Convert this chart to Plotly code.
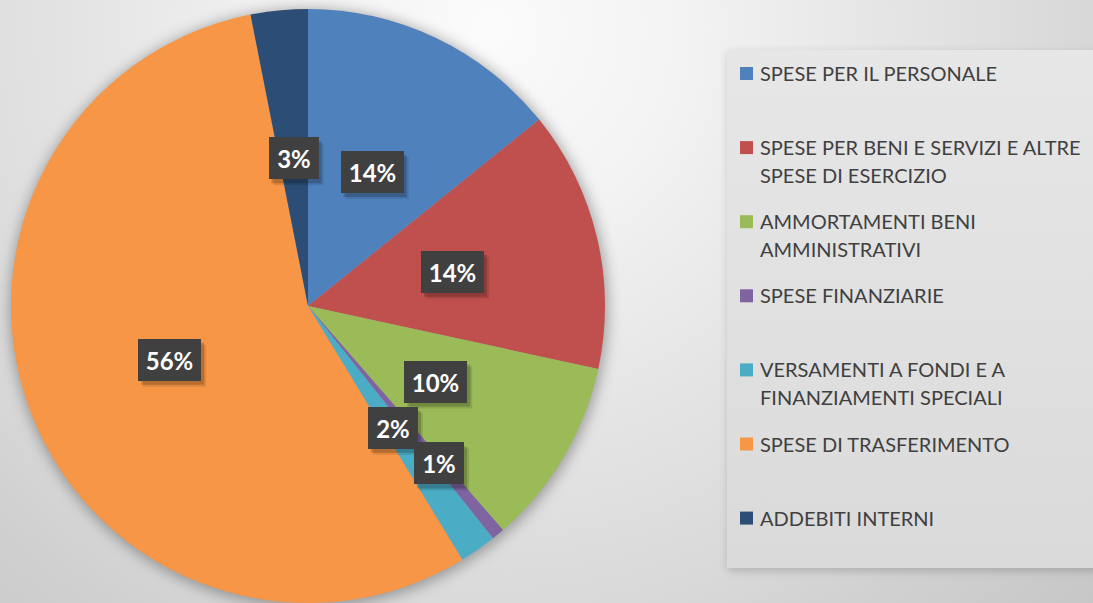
import base64
import math
import plotly.graph_objects as go

# ---------------- data ----------------
categories = [
    "SPESE PER IL PERSONALE",
    "SPESE PER BENI E SERVIZI E ALTRE<br>SPESE DI ESERCIZIO",
    "AMMORTAMENTI BENI<br>AMMINISTRATIVI",
    "SPESE FINANZIARIE",
    "VERSAMENTI A FONDI E A<br>FINANZIAMENTI SPECIALI",
    "SPESE DI TRASFERIMENTO",
    "ADDEBITI INTERNI",
]
shares = [14.2, 14.2, 10.2, 0.7, 2.0, 55.6, 3.1]
colors = ["#4f81bd", "#c0504d", "#9bbb59", "#8064a2", "#4bacc6", "#f79646", "#2c4d75"]

# ---------------- layout constants ----------------
W, H = 1093, 603
CX, CY, R = 308, 306, 297          # pie centre (px from left / top) and radius
LEG_X0, LEG_Y0, LEG_Y1 = 727, 50, 568
LEG_FIRST, LEG_STEP, LEG_LINE = 73, 74.1, 28
FONT = "Lato"


def px(x):
    return x / W


def py(y):
    return 1 - y / H


fig = go.Figure(
    go.Pie(
        labels=[c.replace("<br>", " ") for c in categories],
        values=shares,
        marker=dict(colors=colors, line=dict(width=0)),
        sort=False,
        direction="clockwise",
        rotation=0,
        textinfo="none",
        hoverinfo="label+percent",
        domain=dict(x=[px(CX - R), px(CX + R)], y=[py(CY + R), py(CY - R)]),
        showlegend=False,
    )
)

annotations = []
shapes = []

# ---------------- data labels (boxed) ----------------
total = sum(shares)
cum = 0.0
for v in shares:
    mid = (cum + v / 2) / total
    cum += v
    theta = 2 * math.pi * mid
    rf = 0.69 if v / total < 0.01 else 0.5
    lx = CX + rf * R * math.sin(theta)
    ly = CY - rf * R * math.cos(theta)
    txt = f"{round(100 * v / total)}%"
    bw = 24 + 13 * len(txt)
    bh = 42
    for dx, dy, a in [(5, 6, 0.10), (3, 4, 0.18)]:
        shapes.append(dict(
            type="rect", xref="paper", yref="paper",
            xsizemode="pixel", ysizemode="pixel",
            xanchor=px(lx), yanchor=py(ly),
            x0=-bw / 2 + dx, x1=bw / 2 + dx, y0=-bh / 2 - dy, y1=bh / 2 - dy,
            fillcolor=f"rgba(0,0,0,{a})", line=dict(width=0), layer="above",
        ))
    annotations.append(dict(
        x=px(lx), y=py(ly), xref="paper", yref="paper", showarrow=False,
        text=f"<b>{txt}</b>", font=dict(family=FONT, size=24, color="white"),
        bgcolor="#404040", width=bw, height=bh, borderpad=0, borderwidth=0,
        xanchor="center", yanchor="middle",
    ))

# ---------------- manual legend ----------------
for i, (name, col) in enumerate(zip(categories, colors)):
    y0 = LEG_FIRST + LEG_STEP * i
    shapes.append(dict(
        type="rect", xref="paper", yref="paper",
        x0=px(740), x1=px(753), y0=py(y0 + 7), y1=py(y0 - 6),
        fillcolor=col, line=dict(width=0), layer="above",
    ))
    for j, line in enumerate(name.split("<br>")):
        annotations.append(dict(
            x=px(758), y=py(y0 + j * LEG_LINE), xref="paper", yref="paper",
            showarrow=False, text=line, xanchor="left", yanchor="middle",
            font=dict(family=FONT, size=20, color="#404040"),
        ))

# ---------------- background (gradient, pie shadow, legend box) ----------------
svg = f'''<svg xmlns="http://www.w3.org/2000/svg" width="{W}" height="{H}" viewBox="0 0 {W} {H}" preserveAspectRatio="none">
<defs>
<radialGradient id="bg" gradientUnits="userSpaceOnUse" cx="490" cy="30" r="860">
<stop offset="0" stop-color="#fbfbfb"/>
<stop offset="0.22" stop-color="#f3f3f3"/>
<stop offset="0.48" stop-color="#e4e4e4"/>
<stop offset="0.68" stop-color="#d9d9d9"/>
<stop offset="0.8" stop-color="#d0d0d0"/>
<stop offset="0.95" stop-color="#c8c8c8"/>
<stop offset="1" stop-color="#c5c5c5"/>
</radialGradient>
<linearGradient id="lg" x1="0" y1="0" x2="0" y2="1">
<stop offset="0" stop-color="#e7e7e7"/>
<stop offset="1" stop-color="#dadada"/>
</linearGradient>
<filter id="blur" x="-20%" y="-20%" width="140%" height="140%"><feGaussianBlur stdDeviation="7"/></filter>
<filter id="blur2" x="-20%" y="-20%" width="140%" height="140%"><feGaussianBlur stdDeviation="4"/></filter>
</defs>
<rect x="0" y="0" width="{W}" height="{H}" fill="url(#bg)"/>
<circle cx="{CX + 1}" cy="{CY + 2}" r="{R + 2}" fill="#000" fill-opacity="0.32" filter="url(#blur)"/>
<rect x="{LEG_X0 + 1}" y="{LEG_Y0 + 3}" width="{W}" height="{LEG_Y1 - LEG_Y0}" fill="#000" fill-opacity="0.18" filter="url(#blur2)"/>
<rect x="{LEG_X0}" y="{LEG_Y0}" width="{W}" height="{LEG_Y1 - LEG_Y0}" fill="url(#lg)"/>
</svg>'''
src = "data:image/svg+xml;base64," + base64.b64encode(svg.encode("utf-8")).decode("ascii")

fig.update_layout(
    width=W, height=H,
    margin=dict(l=0, r=0, t=0, b=0),
    paper_bgcolor="white",
    plot_bgcolor="rgba(0,0,0,0)",
    showlegend=False,
    annotations=annotations,
    shapes=shapes,
    images=[dict(
        source=src, xref="paper", yref="paper", x=0, y=1, sizex=1, sizey=1,
        sizing="stretch", xanchor="left", yanchor="top", layer="below",
    )],
)

fig.write_html(
    "out.html",
    config={"displayModeBar": False},
    post_script="document.body.style.margin='0px';document.body.style.overflow='hidden';",
)
